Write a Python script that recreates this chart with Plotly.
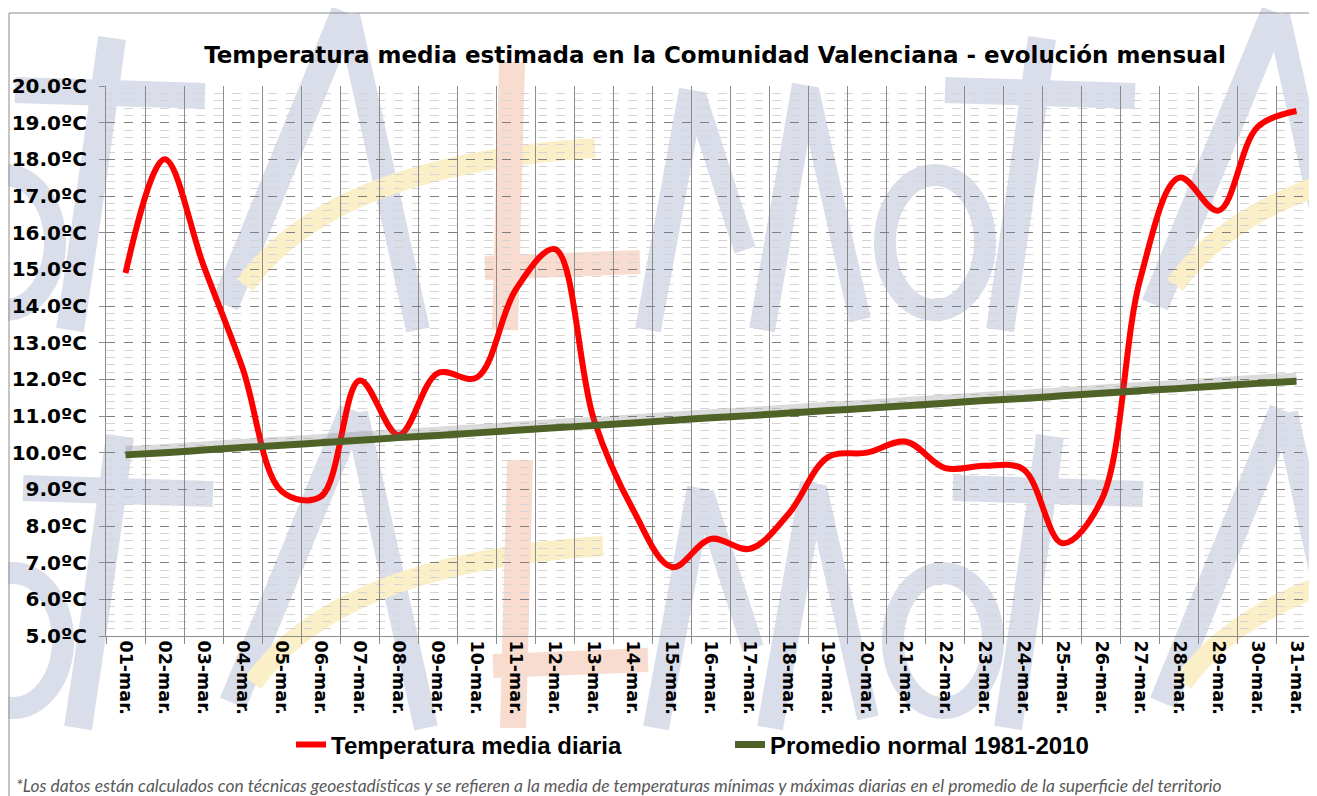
import plotly.graph_objects as go

days = ["01-mar.", "02-mar.", "03-mar.", "04-mar.", "05-mar.", "06-mar.", "07-mar.", "08-mar.",
        "09-mar.", "10-mar.", "11-mar.", "12-mar.", "13-mar.", "14-mar.", "15-mar.", "16-mar.",
        "17-mar.", "18-mar.", "19-mar.", "20-mar.", "21-mar.", "22-mar.", "23-mar.", "24-mar.",
        "25-mar.", "26-mar.", "27-mar.", "28-mar.", "29-mar.", "30-mar.", "31-mar."]

temp_daily = [14.9, 18.0, 15.1, 12.3, 8.95, 8.8, 11.97, 10.48, 12.17, 12.05, 14.45, 15.55,
              10.9, 8.45, 6.88, 7.65, 7.38, 8.35, 9.88, 10.0, 10.3, 9.58, 9.64, 9.55,
              7.53, 8.7, 14.75, 17.5, 16.6, 18.88, 19.32]

temp_normal = [9.94, 10.00, 10.07, 10.14, 10.20, 10.27, 10.34, 10.41, 10.47, 10.54, 10.61,
               10.68, 10.74, 10.81, 10.88, 10.95, 11.01, 11.08, 11.15, 11.21, 11.28, 11.35,
               11.42, 11.48, 11.55, 11.62, 11.69, 11.75, 11.82, 11.89, 11.95]

name_daily = "Temperatura media diaria"
name_normal = "Promedio normal 1981-2010"
title_text = "Temperatura media estimada en la Comunidad Valenciana - evolución mensual"
note_text = ("*Los datos están calculados con técnicas geoestadísticas y se refieren a la media de "
             "temperaturas mínimas y máximas diarias en el promedio de la superficie del territorio")

OFF = 8  # page body margin
W, H = 1317 - OFF, 796 - OFF
L, R, T, B = 106 - OFF, 1, 86 - OFF, 796 - 636
pw, ph = W - L - R, H - T - B


def px(x):
    return (x - OFF - L) / pw


def py(y):
    return (H - B - (y - OFF)) / ph


fig = go.Figure()
fig.add_trace(go.Scatter(x=days, y=temp_daily, name=name_daily, mode="lines",
                         line=dict(color="#FF0000", width=6, shape="spline", smoothing=1.0)))
fig.add_trace(go.Scatter(x=days, y=[v + 0.1 for v in temp_normal], mode="lines", showlegend=False,
                         hoverinfo="skip",
                         line=dict(color="rgba(110,110,110,0.25)", width=10, shape="spline")))
fig.add_trace(go.Scatter(x=days, y=temp_normal, name=name_normal, mode="lines",
                         line=dict(color="#4F6228", width=7, shape="spline", smoothing=1.0)))

fig.update_layout(
    width=W, height=H,
    margin=dict(l=L, r=R, t=T, b=B),
    paper_bgcolor="white", plot_bgcolor="rgba(0,0,0,0)",
    title=dict(text="<b>" + title_text + "</b>", x=(715 - OFF) / W, xref="container",
               xanchor="center", y=1 - (55 - OFF) / H, yref="container", yanchor="middle",
               font=dict(family="DejaVu Sans", size=23, color="black")),
    showlegend=True,
    legend=dict(orientation="h", x=px(291), y=py(745), xanchor="left", yanchor="middle",
                entrywidth=394, entrywidthmode="pixels",
                font=dict(family="Liberation Sans Narrow, Liberation Sans", size=24,
                          color="black", weight="bold"),
                bgcolor="rgba(0,0,0,0)"),
    xaxis=dict(type="category", tickson="boundaries", range=[-0.5, 30.5],
               showgrid=True, gridcolor="#8c8c8c", gridwidth=1,
               ticks="outside", ticklen=7, tickcolor="#8c8c8c",
               showline=True, linecolor="#8c8c8c", linewidth=1,
               tickangle=90,
               tickfont=dict(family="DejaVu Sans", size=17.5, color="black", weight="bold")),
    yaxis=dict(range=[5, 20], dtick=1, tick0=5, tickformat=".1f", ticksuffix="ºC",
               showgrid=True, gridcolor="#7f7f7f", gridwidth=1, griddash="dash",
               ticks="outside", ticklen=6, tickcolor="#8c8c8c", ticklabelstandoff=8,
               showline=True, linecolor="#8c8c8c", linewidth=1,
               zeroline=False,
               minor=dict(dtick=0.2, showgrid=True, gridcolor="#d4d4d4", gridwidth=1, griddash="dash"),
               tickfont=dict(family="DejaVu Sans", size=20, color="black", weight="bold")),
)

fig.add_annotation(text="<i>" + note_text + "</i>", xref="paper", yref="paper",
                   x=px(14), y=py(785), xanchor="left", yanchor="middle", showarrow=False,
                   font=dict(family="Lato", size=17.4, color="#595959"))

# --- faint background watermark (decorative logo strokes), screen-pixel geometry ---
GREY, YELLOW, SALMON = "#dadeea", "#faefc6", "#f7dccf"
logo_strokes = [
    (GREY, 28, "L", [(225, 305), (345, 12)]),
    (GREY, 24, "L", [(348, 15), (418, 330)]),
    (YELLOW, 20, "Q", [(245, 285), (330, 165), (595, 148)]),
    (SALMON, 26, "L", [(512, 62), (505, 330)]),
    (SALMON, 24, "L", [(485, 268), (640, 262)]),
    (GREY, 26, "L", [(692, 90), (648, 330)]),
    (GREY, 22, "L", [(695, 95), (745, 250)]),
    (GREY, 26, "L", [(805, 85), (762, 330)]),
    (GREY, 22, "L", [(808, 90), (860, 320)]),
    (GREY, 26, "L", [(945, 90), (1135, 96)]),
    (GREY, 28, "Q", [(1042, 38), (1020, 200), (1000, 330)]),
]
logo_offsets = [(-930, 0), (0, 0), (930, 0), (-922, 398), (8, 398), (938, 398)]
for dx, dy in logo_offsets:
    for color, width, kind, pts in logo_strokes:
        pp = [(px(x + dx), py(y + dy)) for x, y in pts]
        if kind == "L":
            path = "M {} {} L {} {}".format(pp[0][0], pp[0][1], pp[1][0], pp[1][1])
        else:
            path = "M {} {} Q {} {} {} {}".format(pp[0][0], pp[0][1], pp[1][0], pp[1][1],
                                                 pp[2][0], pp[2][1])
        fig.add_shape(type="path", path=path, xref="paper", yref="paper", layer="below",
                      line=dict(color=color, width=width))
    fig.add_shape(type="circle", xref="paper", yref="paper", layer="below",
                  x0=px(885 + dx), x1=px(985 + dx), y0=py(310 + dy), y1=py(175 + dy),
                  line=dict(color=GREY, width=22))

fig.add_shape(type="rect", xref="paper", yref="paper",
              x0=px(9), x1=px(1340), y0=py(820), y1=py(13),
              line=dict(color="#8c8c8c", width=1), fillcolor="rgba(0,0,0,0)", layer="below")

fig.write_html("out.html")
